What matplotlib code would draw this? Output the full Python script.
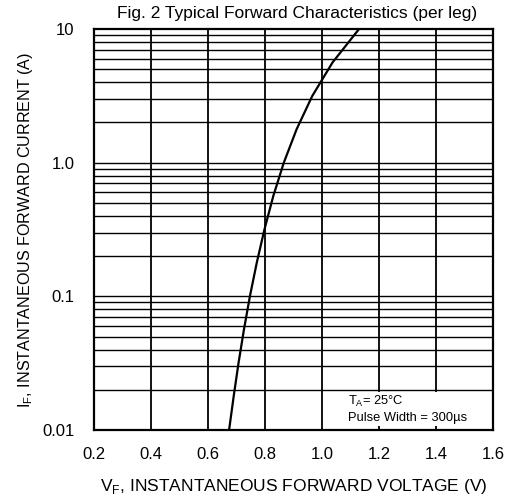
import matplotlib
matplotlib.use("Agg")
import matplotlib.pyplot as plt
import numpy as np
from matplotlib.patches import Rectangle

plt.rcParams["font.family"] = ["Liberation Sans", "DejaVu Sans"]

# curve (per leg, TA = 25C)
VF = [0.674, 0.690, 0.707, 0.726, 0.747, 0.771, 0.798, 0.829, 0.866,
      0.911, 0.966, 1.037, 1.130]
IF = [0.01, 0.0178, 0.0316, 0.0562, 0.1, 0.178, 0.316, 0.562, 1.0,
      1.78, 3.16, 5.62, 10]

X_TICKS = [0.2, 0.4, 0.6, 0.8, 1.0, 1.2, 1.4, 1.6]
Y_TICKS = [0.01, 0.1, 1.0, 10]
Y_TICK_LABELS = ["0.01", "0.1", "1.0", "10"]

TITLE = "Fig. 2 Typical Forward Characteristics (per leg)"
XLABEL = "V$_\\mathregular{F}$, INSTANTANEOUS FORWARD VOLTAGE (V)"
YLABEL = "I$_\\mathregular{F}$, INSTANTANEOUS FORWARD CURRENT (A)"

fig = plt.figure(figsize=(5.11, 5.01), dpi=100)
ax = fig.add_axes([94 / 511, 1 - 430 / 501, 399 / 511, 401 / 501])

ax.set_yscale("log")
ax.set_xlim(0.2, 1.6)
ax.set_ylim(0.01, 10)

# grid: every log step horizontally, every 0.2 V vertically
for dec in [0.01, 0.1, 1.0]:
    for k in range(1, 10):
        ax.axhline(dec * k, color="black", lw=1.0, zorder=1)
for x in X_TICKS[1:-1]:
    ax.axvline(x, color="black", lw=1.3, zorder=1)

ax.plot(VF, IF, color="black", lw=1.6, zorder=3)

# note box (grid lines poke out a little above and below it)
ax.add_patch(Rectangle((1.005, 0.0107), 0.59, 0.0087, facecolor="white",
                       edgecolor="none", zorder=2))
ax.text(1.09, 0.0163, "T$_\\mathregular{A}$= 25\u00b0C", fontsize=9.3, va="center", zorder=4)
ax.text(1.09, 0.0122, "Pulse Width = 300\u00b5s", fontsize=9.3, va="center", zorder=4)

ax.set_xticks(X_TICKS)
ax.set_xticklabels([f"{v:.1f}" for v in X_TICKS], fontsize=12)
ax.set_yticks(Y_TICKS)
ax.set_yticklabels(Y_TICK_LABELS, fontsize=12)
ax.yaxis.set_minor_locator(matplotlib.ticker.NullLocator())
ax.tick_params(axis="x", length=0, pad=12)
ax.tick_params(axis="y", length=0, pad=14)

for s in ax.spines.values():
    s.set_linewidth(1.6)
    s.set_zorder(5)

ax.set_title(TITLE, fontsize=12.5, pad=8, x=0.51)
ax.set_xlabel(XLABEL, fontsize=12.5, labelpad=11)
ax.set_ylabel(YLABEL, fontsize=11.6, labelpad=5)

fig.savefig("out.png", dpi=100)
